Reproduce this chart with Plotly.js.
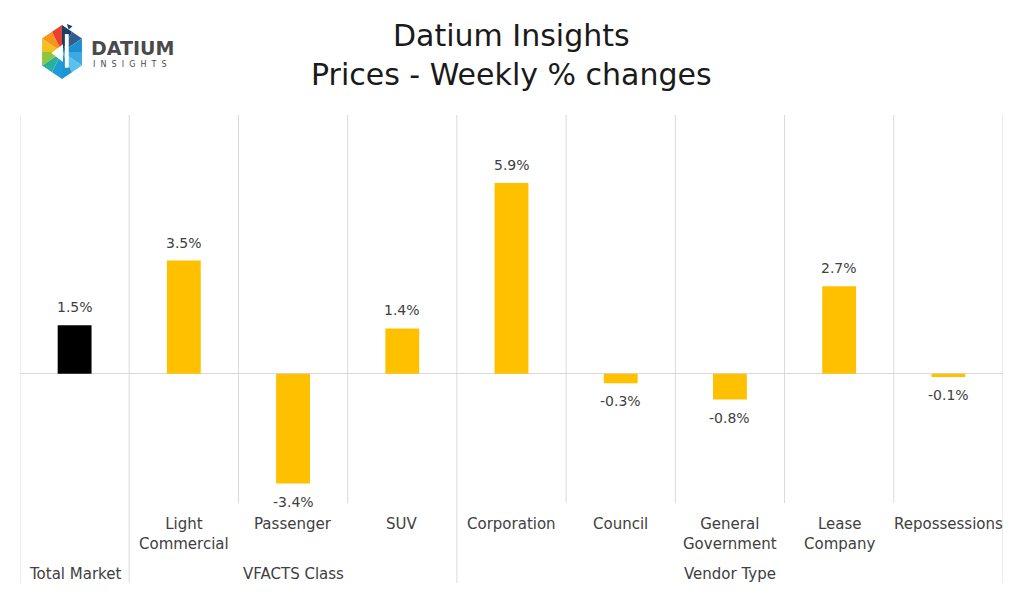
<!DOCTYPE html>
<html>
<head>
<meta charset="utf-8">
<script src="https://cdn.plot.ly/plotly-3.0.1.min.js"></script>
<style>html,body{margin:0;padding:0;background:#fff;}#chart{width:1024px;height:594px;}</style>
</head>
<body>
<div id="chart"></div>
<script>
// ---- data ----
const categories = ['', 'Light<br>Commercial', 'Passenger', 'SUV', 'Corporation', 'Council', 'General<br>Government', 'Lease<br>Company', 'Repossessions'];
const values = [1.5, 3.5, -3.4, 1.4, 5.9, -0.3, -0.8, 2.7, -0.1];
const groups = ['Total Market', 'VFACTS Class', 'Vendor Type'];
const groupSizes = [1, 3, 5];
const highlightColor = '#000000';
const barColor = '#FFC000';

// ---- layout geometry helpers ----
const W = 1024, H = 594;
const M = {l: 20, r: 21, t: 115, b: 91};
const PW = W - M.l - M.r, PH = H - M.t - M.b;
const px = x => (x - M.l) / PW;
const py = y => (H - M.b - y) / PH;

const FONT = 'DejaVu Sans, sans-serif';
const grid = '#D9D9D9';
const txt = '#404040';

const xIdx = categories.map((c, i) => i);
const colors = values.map((v, i) => i === 0 ? highlightColor : barColor);
const labels = values.map(v => v.toFixed(1) + '%');

const trace = {
  type: 'bar',
  x: xIdx,
  y: values,
  width: 0.31,
  marker: {color: colors},
  hoverinfo: 'skip'
};

// dividers
const shapes = [];
const outerBounds = [];
let acc = 0;
outerBounds.push(acc);
groupSizes.forEach(s => { acc += s; outerBounds.push(acc); });
for (let i = 0; i <= categories.length; i++) {
  const outer = outerBounds.includes(i);
  shapes.push({type: 'line', xref: 'x', yref: 'paper', x0: i - 0.5, x1: i - 0.5,
    y0: 1, y1: outer ? py(583) : 0, line: {color: grid, width: 1}});
}

const annotations = [];
// value labels
values.forEach((v, i) => {
  annotations.push({xref: 'x', yref: 'y', x: i, y: v, xanchor: 'center',
    yanchor: v >= 0 ? 'bottom' : 'top', yshift: v >= 0 ? 8 : -8,
    text: labels[i], showarrow: false, font: {family: FONT, size: 14, color: txt}});
});
// category labels
categories.forEach((c, i) => {
  if (!c) return;
  annotations.push({xref: 'x', yref: 'paper', x: i, y: py(513), yanchor: 'top', xanchor: 'center',
    text: c, showarrow: false, font: {family: FONT, size: 15, color: txt}});
});
// group labels
acc = 0;
groups.forEach((g, k) => {
  const mid = acc + (groupSizes[k] - 1) / 2;
  acc += groupSizes[k];
  annotations.push({xref: 'x', yref: 'paper', x: mid, y: py(574), yanchor: 'middle', xanchor: 'center',
    text: g, showarrow: false, font: {family: FONT, size: 15, color: txt}});
});
// title
annotations.push({xref: 'paper', yref: 'paper', x: px(512), y: py(35), xanchor: 'center', yanchor: 'middle',
  text: 'Datium Insights', showarrow: false, font: {family: FONT, size: 30, color: '#1a1a1a'}});
annotations.push({xref: 'paper', yref: 'paper', x: px(512), y: py(75), xanchor: 'center', yanchor: 'middle',
  text: 'Prices - Weekly % changes', showarrow: false, font: {family: FONT, size: 30, color: '#1a1a1a'}});
// logo text
annotations.push({xref: 'paper', yref: 'paper', x: px(89), y: py(48), xanchor: 'left', yanchor: 'middle',
  text: '<b>DATIUM</b>', showarrow: false, font: {family: FONT, size: 19, color: '#4a4a4c'}});
annotations.push({xref: 'paper', yref: 'paper', x: px(91), y: py(64), xanchor: 'left', yanchor: 'middle',
  text: 'I  N  S  I  G  H  T  S', showarrow: false, font: {family: FONT, size: 8, color: '#4a4a4c'}});

// logo icon (hexagon of coloured triangles)
const hexV = [[50,2],[91.6,26],[91.6,74],[50,98],[8.4,74],[8.4,26]];
const sectorCols = [['#1B3F66','#2E5F8C'],['#1E8FCF','#3AAAE0'],['#5BC0EB','#1E96D1'],['#1F9BD7','#2BB0A0'],['#8DC63F','#F4C01E'],['#F7941D','#E8412F']];
let svg = '<svg xmlns="http://www.w3.org/2000/svg" viewBox="0 0 100 100">';
for (let k = 0; k < 6; k++) {
  const a = hexV[k], b = hexV[(k + 1) % 6];
  const m = [(a[0] + b[0]) / 2, (a[1] + b[1]) / 2];
  svg += `<polygon points="50,50 ${a[0]},${a[1]} ${m[0]},${m[1]}" fill="${sectorCols[k][0]}"/>`;
  svg += `<polygon points="50,50 ${m[0]},${m[1]} ${b[0]},${b[1]}" fill="${sectorCols[k][1]}"/>`;
}
svg += '<polygon points="28,52 52,36 52,68" fill="#fff"/><polygon points="56,18 64,18 64,78 56,78" fill="#fff"/><polygon points="60,0 72,4 64,10" fill="#1B3F66"/></svg>';
const images = [{source: 'data:image/svg+xml;base64,' + btoa(svg), xref: 'paper', yref: 'paper',
  x: px(38), y: py(24), sizex: 48 / PW, sizey: 56 / PH, sizing: 'stretch', xanchor: 'left', yanchor: 'top', layer: 'above'}];

const layout = {
  width: W, height: H,
  margin: M,
  paper_bgcolor: '#fff', plot_bgcolor: '#fff',
  showlegend: false,
  xaxis: {range: [-0.5, categories.length - 0.5], showgrid: false, zeroline: false, showticklabels: false, showline: false, fixedrange: true},
  yaxis: {range: [-4, 8], showgrid: false, zeroline: true, zerolinecolor: grid, zerolinewidth: 1, showticklabels: false, showline: false, fixedrange: true},
  shapes: shapes,
  annotations: annotations,
  images: images
};

Plotly.newPlot('chart', [trace], layout, {displayModeBar: false, staticPlot: true});
</script>
</body>
</html>
